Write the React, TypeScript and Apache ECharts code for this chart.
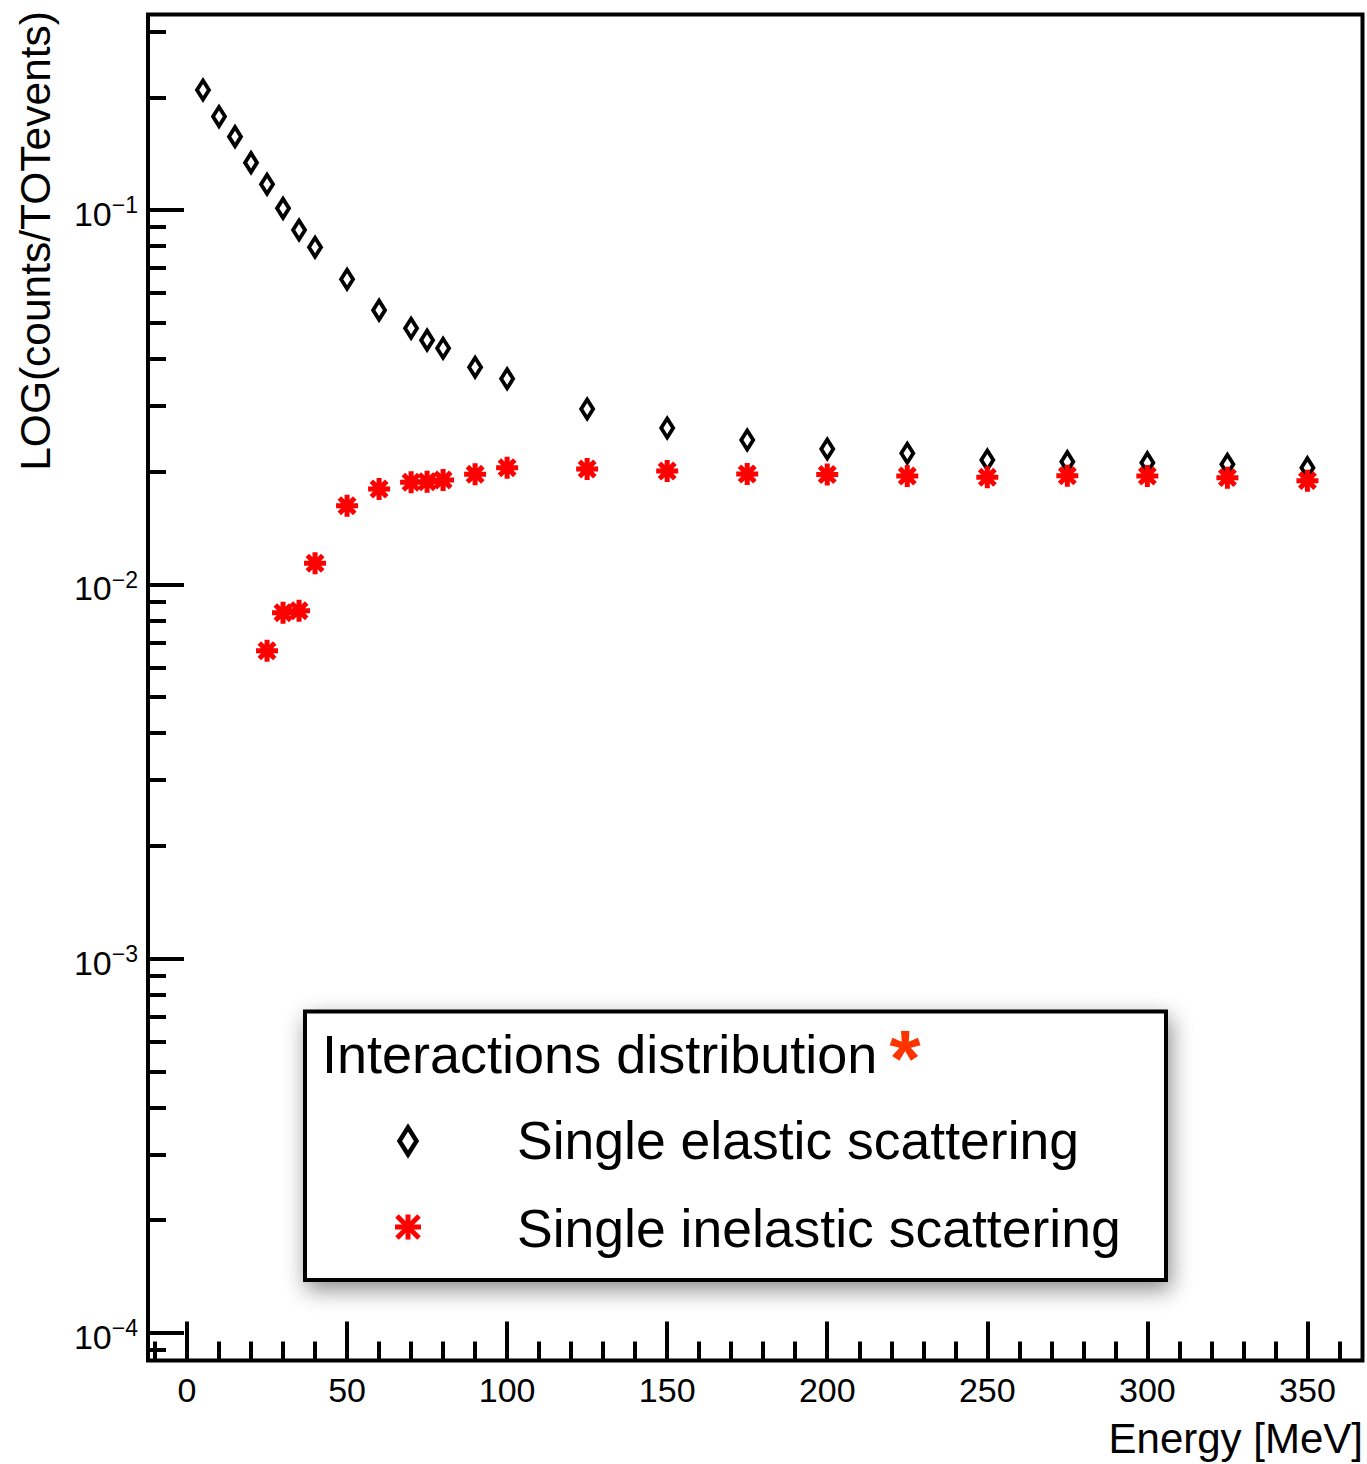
import React, { useEffect, useRef } from "react";
import * as echarts from "echarts";

// Energy [MeV] and normalised counts
const energyElastic = [5, 10, 15, 20, 25, 30, 35, 40, 50, 60, 70, 75, 80, 90, 100, 125, 150, 175, 200, 225, 250, 275, 300, 325, 350];
const elasticValues = [0.2092, 0.1776, 0.157, 0.1338, 0.1171, 0.101, 0.0884, 0.0795, 0.0653, 0.054, 0.0483, 0.0449, 0.0427, 0.038, 0.0354, 0.0294, 0.02616, 0.02429, 0.02298, 0.02239, 0.02148, 0.02126, 0.02113, 0.02092, 0.02049];

const energyInelastic = [25, 30, 35, 40, 50, 60, 70, 75, 80, 90, 100, 125, 150, 175, 200, 225, 250, 275, 300, 325, 350];
const inelasticValues = [0.006646, 0.008398, 0.008501, 0.01138, 0.01622, 0.01797, 0.01873, 0.0188, 0.019, 0.01967, 0.02049, 0.02032, 0.02008, 0.01971, 0.01965, 0.01947, 0.01932, 0.0195, 0.01947, 0.01927, 0.01892];

const xMajorTicks = [0, 50, 100, 150, 200, 250, 300, 350];
const xMinorTicks = [-10, 10, 20, 30, 40, 60, 70, 80, 90, 110, 120, 130, 140, 160, 170, 180, 190, 210, 220, 230, 240, 260, 270, 280, 290, 310, 320, 330, 340, 360];
const yMajorTicks = [1e-4, 1e-3, 1e-2, 1e-1];
const yMinorTicks = [
  9e-5,
  2e-4, 3e-4, 4e-4, 5e-4, 6e-4, 7e-4, 8e-4, 9e-4,
  2e-3, 3e-3, 4e-3, 5e-3, 6e-3, 7e-3, 8e-3, 9e-3,
  2e-2, 3e-2, 4e-2, 5e-2, 6e-2, 7e-2, 8e-2, 9e-2,
  2e-1, 3e-1,
];

const xMin = -12.18;
const xMax = 367.2;
const yMin = 8.44e-5;
const yMax = 0.3328;

const legendTitle = "Interactions distribution";
const seriesNames = ["Single elastic scattering", "Single inelastic scattering"];
const xTitle = "Energy [MeV]";
const yTitle = "LOG(counts/TOTevents)";

const FONT = "Liberation Sans";
const STAR_PATH = "path://M10 0L10 20M0 10L20 10M3 3L17 17M3 17L17 3";

export default function App() {
  const ref = useRef<HTMLDivElement>(null);

  useEffect(() => {
    if (!ref.current) return;
    const chart = echarts.init(ref.current, null, { renderer: "svg" });

    const tickLine = { color: "#000", width: 4 };

    const option: any = {
      animation: false,
      backgroundColor: "#fff",
      grid: {
        left: 148,
        top: 14.5,
        right: 4.5,
        bottom: 103.5,
        show: true,
        borderColor: "#000",
        borderWidth: 4,
        backgroundColor: "transparent",
      },
      xAxis: [
        {
          type: "value",
          min: xMin,
          max: xMax,
          position: "bottom",
          axisLine: { show: false, onZero: false },
          splitLine: { show: false },
          axisTick: { show: true, inside: true, length: 39, lineStyle: tickLine, customValues: xMajorTicks },
          axisLabel: {
            customValues: xMajorTicks,
            margin: 12,
            fontSize: 34,
            color: "#000",
            fontFamily: FONT,
          },
        },
        {
          type: "value",
          min: xMin,
          max: xMax,
          position: "bottom",
          axisLine: { show: false, onZero: false },
          splitLine: { show: false },
          axisLabel: { show: false },
          axisTick: { show: true, inside: true, length: 19, lineStyle: tickLine, customValues: xMinorTicks },
        },
      ],
      yAxis: [
        {
          type: "log",
          logBase: 10,
          min: yMin,
          max: yMax,
          position: "left",
          axisLine: { show: false, onZero: false },
          splitLine: { show: false },
          axisTick: { show: true, inside: true, length: 36, lineStyle: tickLine, customValues: yMajorTicks },
          axisLabel: {
            customValues: yMajorTicks,
            margin: 10,
            padding: [8, 0, 0, 0],
            formatter: (v: number) => `{b|10}{s|\u2212${Math.abs(Math.round(Math.log10(v)))}}`,
            rich: {
              b: { fontSize: 34, fontFamily: FONT, color: "#000", lineHeight: 40 },
              s: { fontSize: 23, fontFamily: FONT, color: "#000", lineHeight: 40, verticalAlign: "top" },
            },
          },
        },
        {
          type: "log",
          logBase: 10,
          min: yMin,
          max: yMax,
          position: "left",
          axisLine: { show: false, onZero: false },
          splitLine: { show: false },
          axisLabel: { show: false },
          axisTick: { show: true, inside: true, length: 18, lineStyle: tickLine, customValues: yMinorTicks },
        },
      ],
      series: [
        {
          type: "scatter",
          name: seriesNames[0],
          xAxisIndex: 0,
          yAxisIndex: 0,
          data: energyElastic.map((e, i) => [e, elasticValues[i]]),
          symbol: "diamond",
          symbolSize: [12, 19],
          itemStyle: { color: "rgba(0,0,0,0)", borderColor: "#000", borderWidth: 4, opacity: 1 },
          z: 3,
        },
        {
          type: "scatter",
          name: seriesNames[1],
          xAxisIndex: 0,
          yAxisIndex: 0,
          data: energyInelastic.map((e, i) => [e, inelasticValues[i]]),
          symbol: STAR_PATH,
          symbolSize: 22,
          itemStyle: { color: "rgba(0,0,0,0)", borderColor: "#ff0000", borderWidth: 5, opacity: 1 },
          z: 4,
        },
      ],
      graphic: [
        {
          type: "text",
          x: 35,
          y: 11,
          rotation: Math.PI / 2,
          style: {
            text: yTitle,
            fontSize: 42.5,
            fontFamily: FONT,
            fill: "#000",
            align: "right",
            verticalAlign: "middle",
          },
        },
        {
          type: "text",
          x: 1363,
          y: 1438,
          style: {
            text: xTitle,
            fontSize: 42,
            fontFamily: FONT,
            fill: "#000",
            align: "right",
            verticalAlign: "middle",
          },
        },
        {
          type: "group",
          z: 100,
          children: [
            {
              type: "rect",
              shape: { x: 305, y: 1011.5, width: 861, height: 268.5 },
              style: {
                fill: "#fff",
                stroke: "#000",
                lineWidth: 4,
                shadowBlur: 22,
                shadowColor: "rgba(0,0,0,0.45)",
                shadowOffsetX: 3,
                shadowOffsetY: 8,
              },
            },
            {
              type: "text",
              x: 322,
              y: 1054,
              style: {
                text: legendTitle,
                fontSize: 54,
                fontFamily: FONT,
                fill: "#000",
                align: "left",
                verticalAlign: "middle",
              },
            },
            {
              type: "text",
              x: 905,
              y: 1058,
              style: {
                text: "*",
                fontSize: 80,
                fontWeight: "bold",
                fontFamily: FONT,
                fill: "#ff3300",
                align: "center",
                verticalAlign: "middle",
              },
            },
            {
              type: "polygon",
              shape: { points: [[408, 1127.5], [416.5, 1141], [408, 1154.5], [399.5, 1141]] },
              style: { fill: "#fff", stroke: "#000", lineWidth: 4.5 },
            },
            {
              type: "text",
              x: 517,
              y: 1140,
              style: {
                text: seriesNames[0],
                fontSize: 53.5,
                fontFamily: FONT,
                fill: "#000",
                align: "left",
                verticalAlign: "middle",
              },
            },
            {
              type: "group",
              children: [
                { type: "line", shape: { x1: 408, y1: 1214.5, x2: 408, y2: 1239.5 }, style: { stroke: "#ff0000", lineWidth: 5 } },
                { type: "line", shape: { x1: 395, y1: 1227, x2: 421, y2: 1227 }, style: { stroke: "#ff0000", lineWidth: 5 } },
                { type: "line", shape: { x1: 397, y1: 1216, x2: 419, y2: 1238 }, style: { stroke: "#ff0000", lineWidth: 5 } },
                { type: "line", shape: { x1: 397, y1: 1238, x2: 419, y2: 1216 }, style: { stroke: "#ff0000", lineWidth: 5 } },
              ],
            },
            {
              type: "text",
              x: 517,
              y: 1228,
              style: {
                text: seriesNames[1],
                fontSize: 53.5,
                fontFamily: FONT,
                fill: "#000",
                align: "left",
                verticalAlign: "middle",
              },
            },
          ],
        },
      ],
    };

    chart.setOption(option);
    return () => chart.dispose();
  }, []);

  return (
    <div
      ref={ref}
      style={{ position: "absolute", left: 0, top: 0, width: 1367, height: 1464 }}
    />
  );
}
